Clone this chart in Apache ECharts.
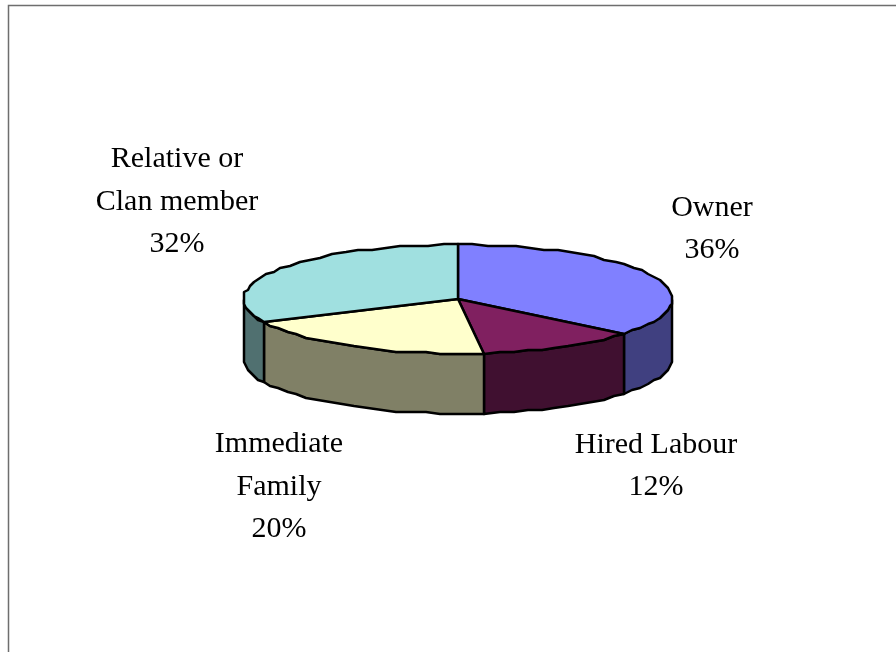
<!DOCTYPE html>
<html>
<head>
<meta charset="utf-8">
<style>html,body{margin:0;padding:0;background:#fff}#chart{width:896px;height:652px}</style>
<script src="https://cdn.jsdelivr.net/npm/echarts@6/dist/echarts.min.js"></script>
</head>
<body>
<div id="chart"></div>
<script>
// Workforce shares, clockwise from twelve o'clock.
const categories = ['Owner', 'Hired Labour', 'Immediate\nFamily', 'Relative or\nClan member'];
const shares = [36, 12, 20, 32];
const topColors = ['#8080FF', '#802060', '#FFFFCC', '#A0E0E0'];
const sideColors = ['#404080', '#401030', '#808066', '#507070'];

// Disc geometry and label anchors in pixels.
const disc = { cx: 458, cy: 299, rx: 214.5, ry: 54.5, depth: 60 };
const labelCentres = [[712, 229], [656, 466], [279, 487], [177, 202]];
const total = shares.reduce((a, b) => a + b, 0);

// The rim is traced on a coarse pixel grid, which gives it a hand-plotted edge.
const GRID = 2;
const snap = v => Math.round(v / GRID) * GRID;
function rim(deg, dy) {
  const t = deg * Math.PI / 180;
  return [snap(disc.cx + disc.rx * Math.sin(t)), snap(disc.cy - disc.ry * Math.cos(t)) + dy];
}
function arc(a0, a1, dy) {
  const pts = [];
  const n = Math.max(2, Math.ceil(Math.abs(a1 - a0) / 4));
  for (let i = 0; i <= n; i++) pts.push(rim(a0 + (a1 - a0) * i / n, dy));
  return pts;
}
const outline = { stroke: '#000', lineWidth: 2.5, lineJoin: 'round' };

function renderSlice(params, api) {
  const i = params.dataIndex;
  let before = 0;
  for (let k = 0; k < i; k++) before += shares[k];
  const a0 = before / total * 360;
  const a1 = a0 + api.value(0) / total * 360;
  const children = [];

  // Front wall: only the part of the rim that lies between 3 and 9 o'clock shows.
  const s0 = Math.max(a0, 90), s1 = Math.min(a1, 270);
  if (s1 > s0) {
    children.push({
      type: 'polygon',
      shape: { points: arc(s0, s1, 0).concat(arc(s1, s0, disc.depth)) },
      style: Object.assign({ fill: sideColors[i] }, outline)
    });
  }
  // Top face.
  children.push({
    type: 'polygon',
    z2: 5,
    shape: { points: [[disc.cx, disc.cy]].concat(arc(a0, a1, 0)) },
    style: Object.assign({ fill: topColors[i] }, outline)
  });
  // Label: name and percentage.
  children.push({
    type: 'text',
    z2: 10,
    x: labelCentres[i][0],
    y: labelCentres[i][1],
    style: {
      text: categories[i] + '\n' + Math.round(api.value(0) / total * 100) + '%',
      fill: '#000',
      font: '30px "Liberation Serif"',
      lineHeight: 42.5,
      align: 'center',
      verticalAlign: 'middle'
    }
  });
  return { type: 'group', children };
}

const chart = echarts.init(document.getElementById('chart'), null, { renderer: 'canvas' });
chart.setOption({
  animation: false,
  backgroundColor: '#fff',
  graphic: [{
    type: 'polyline',
    shape: { points: [[8.5, 660], [8.5, 5.5], [900, 5.5]] },
    style: { stroke: '#6e6e6e', lineWidth: 1.5, fill: null }
  }],
  series: [{
    type: 'custom',
    coordinateSystem: 'none',
    renderItem: renderSlice,
    data: shares.map(v => [v])
  }]
});
</script>
</body>
</html>
